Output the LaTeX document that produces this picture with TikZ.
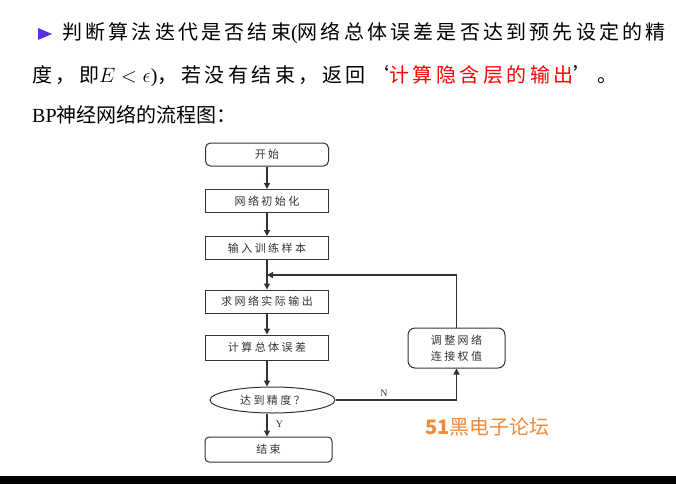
\documentclass[tikz,border=0pt]{standalone}
\usepackage{fontspec}
\setmainfont{Liberation Serif}
\newfontfamily\cjk{Noto Sans CJK SC}
\newfontfamily\cjkwide[LetterSpace=16]{Noto Sans CJK SC}
\newfontfamily\cjkwider[LetterSpace=17.5]{Noto Sans CJK SC}
\newfontfamily\cjkbox[LetterSpace=22]{Noto Sans CJK SC}
\usetikzlibrary{arrows.meta,positioning,shapes.geometric}
\definecolor{linegray}{HTML}{333333}
\definecolor{bulletviolet}{HTML}{5A2EE6}
\definecolor{wmorange}{HTML}{EE8A3A}

\begin{document}
\begin{tikzpicture}[x=1pt,y=-1pt,
      proc/.style={draw=linegray,line width=1pt,minimum width=123pt,minimum height=23pt,inner sep=0pt,text=linegray,font=\fontsize{11}{16}\cjkbox},
      term/.style={proc,rounded corners=5pt},
      dec/.style={draw=linegray,line width=1pt,ellipse,minimum width=125pt,minimum height=26pt,inner sep=0pt,text=linegray,font=\fontsize{11}{16}\cjkbox},
      arr/.style={-{Triangle[width=6pt,length=6pt]},line width=1.3pt,linegray},
      yn/.style={text=linegray,font=\fontsize{10}{11}\selectfont},
      line/.style={anchor=west,inner sep=0pt}
      ]
      \fill[white] (0,0) rectangle (676,484);
      \useasboundingbox (0,0) rectangle (676,484);
      % slide text
      \fill[bulletviolet] (38,28) -- (52,34) -- (38,40) -- cycle;
      \node[line] (l1) at (62,33) {\fontsize{20}{24}\cjkwide 判断算法迭代是否结束{\rmfamily(}网络总体误差是否达到预先设定的精};
      \node[line] (l2) at (32,76) {\fontsize{20}{24}\cjkwider 度，即$E<\epsilon${\rmfamily)}，若没有结束，返回‘\textcolor{red}{计算隐含层的输出}’。};
      \node[line] (l3) at (32,115) {\fontsize{20}{24}\selectfont BP{\cjk 神经网络的流程图：}};
      % flow chart
      \node[term] (start) at (267,154.5) {开始};
      \node[proc] (init) at (267,201) {网络初始化};
      \node[proc] (input) at (267,248) {输入训练样本};
      \node[proc] (output) at (267,301.5) {求网络实际输出};
      \node[proc,minimum height=25pt] (error) at (267,347.5) {计算总体误差};
      \node[dec] (check) at (272.5,400) {达到精度？};
      \node[term,minimum width=127pt,minimum height=25pt,rounded corners=4pt] (stop) at (268.5,449.5) {结束};
      \node[term,minimum width=97pt,minimum height=40pt,rounded corners=7pt,align=center] (adjust) at (456.5,348) {调整网络\\连接权值};
      \coordinate (merge) at (267,275);
      \draw[arr] (start) -- (init);
      \draw[arr] (init) -- (input);
      \draw[arr] (input) -- (output);
      \draw[arr] (output) -- (error);
      \draw[arr] (error) -- (error.south |- check.north);
      \draw[arr] (check.south -| error.south) -- node[yn,right=5pt,pos=0.45]{Y} (stop.north -| error.south);
      \draw[arr] (check.east) -| node[yn,above,pos=0.2]{N} (adjust.south);
      \draw[arr] (adjust.north) |- (merge);
      % watermark and bottom bar
      \node[line,text=wmorange] (mark) at (425,427) {\fontsize{20}{24}\cjk\textbf{51}黑电子论坛};
      \fill[black] (0,476) rectangle (676,484);
\end{tikzpicture}
\end{document}
